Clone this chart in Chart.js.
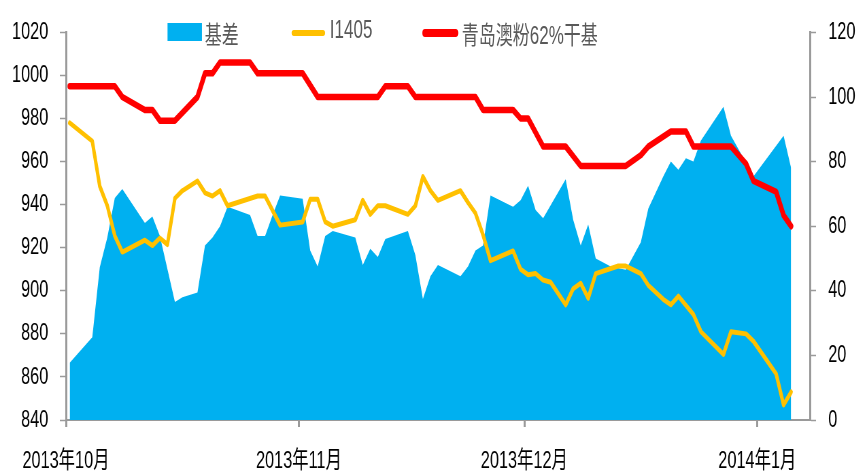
<!DOCTYPE html>
<html>
<head>
<meta charset="utf-8">
<script src="https://cdn.jsdelivr.net/npm/chart.js@4/dist/chart.umd.min.js"></script>
<style>
  html, body { margin: 0; padding: 0; background: #fff; overflow: hidden; }
  #wrap { position: relative; width: 857px; height: 471px; overflow: hidden; }
  /* the reference is squeezed sideways, so draw wide and squeeze */
  #stage { position: absolute; left: 0; top: 0; width: 1260px; height: 471px; transform: scaleX(0.68); transform-origin: 0 0; }
  #chart { position: absolute; left: 0; top: 0; }
  .lg-text { position: absolute; top: 15px; line-height: 32px; font: 25px 'Liberation Sans', 'Noto Sans CJK SC', sans-serif; color: #595959; white-space: nowrap; }
  .lg-box { position: absolute; left: 246px; top: 23px; width: 51px; height: 18px; background: #00B0F0; }
  .lg-line { position: absolute; border-radius: 4px; }
</style>
</head>
<body>
<div id="wrap">
  <div id="stage">
    <canvas id="chart" width="1260" height="471"></canvas>
    <div class="lg-box"></div>
    <div class="lg-text" style="left:301px">基差</div>
    <div class="lg-line" style="left:429px;top:30px;width:49px;height:6px;background:#FFC000"></div>
    <div class="lg-text" style="left:485px">I1405</div>
    <div class="lg-line" style="left:621px;top:29px;width:53px;height:8px;background:#FF0000"></div>
    <div class="lg-text" style="left:679px">青岛澳粉62%干基</div>
  </div>
</div>
<script>
const monthDates  = ['2013-10-01', '2013-11-01', '2013-12-01', '2014-01-01']
const monthLabels = ['2013年10月', '2013年11月', '2013年12月', '2014年1月']
const axisStart = '2013-10-01'
const axisEnd   = '2014-01-08'

// 青岛澳粉62%干基 (left axis)
const spotDates = ['2013-10-01','2013-10-07','2013-10-08','2013-10-11','2013-10-12','2013-10-13','2013-10-15',
  '2013-10-18','2013-10-19','2013-10-20','2013-10-21','2013-10-25','2013-10-26','2013-11-01','2013-11-03',
  '2013-11-11','2013-11-12','2013-11-15','2013-11-16','2013-11-24','2013-11-25','2013-11-29','2013-11-30',
  '2013-12-01','2013-12-03','2013-12-06','2013-12-08','2013-12-14','2013-12-16','2013-12-17','2013-12-20',
  '2013-12-22','2013-12-23','2013-12-28','2013-12-30','2013-12-31','2014-01-03','2014-01-04','2014-01-05']
const spotValues = [995, 995, 990, 984, 984, 979, 979,
  990, 1001, 1001, 1006, 1006, 1001, 1001, 990,
  990, 995, 995, 990, 990, 984, 984, 980,
  980, 967, 967, 958, 958, 963, 967, 974,
  974, 967, 967, 959, 951, 946, 935, 930]

// I1405 (left axis)
const futDates = ['2013-10-01','2013-10-04','2013-10-05','2013-10-06','2013-10-07','2013-10-08','2013-10-11',
  '2013-10-12','2013-10-13','2013-10-14','2013-10-15','2013-10-16','2013-10-18','2013-10-19','2013-10-20',
  '2013-10-21','2013-10-22','2013-10-26','2013-10-27','2013-10-29','2013-11-01','2013-11-02','2013-11-03',
  '2013-11-04','2013-11-05','2013-11-08','2013-11-09','2013-11-10','2013-11-11','2013-11-12','2013-11-15',
  '2013-11-16','2013-11-17','2013-11-18','2013-11-19','2013-11-22','2013-11-23','2013-11-24','2013-11-25',
  '2013-11-26','2013-11-29','2013-11-30','2013-12-01','2013-12-02','2013-12-03','2013-12-04','2013-12-06',
  '2013-12-07','2013-12-08','2013-12-09','2013-12-10','2013-12-13','2013-12-14','2013-12-16','2013-12-17',
  '2013-12-19','2013-12-20','2013-12-21','2013-12-23','2013-12-24','2013-12-27','2013-12-28','2013-12-30',
  '2013-12-31','2014-01-03','2014-01-04','2014-01-05']
const futValues = [978, 969.5, 948.5, 939.5, 925.5, 918, 923.5,
  921, 924.5, 921.5, 943, 946.5, 951, 945.5, 944,
  946.5, 939.5, 944, 944, 930.5, 932, 942.5, 942.5,
  932, 930, 933, 942, 935.5, 939.5, 939.5, 935.5,
  939.5, 953, 946.5, 942, 946.5, 941, 936, 926,
  914, 918.5, 910, 907.5, 908, 905, 904, 893.5,
  901, 903.5, 896.5, 908, 911.5, 911.5, 908, 902.5,
  896, 893.5, 897.5, 889, 881, 870.5, 881, 880,
  876.5, 861.5, 847, 853]

// 基差 (right axis)
const basisDates = ['2013-10-01','2013-10-04','2013-10-05','2013-10-06','2013-10-07','2013-10-08','2013-10-11',
  '2013-10-12','2013-10-13','2013-10-15','2013-10-16','2013-10-18','2013-10-19','2013-10-20','2013-10-21',
  '2013-10-22','2013-10-25','2013-10-26','2013-10-27','2013-10-28','2013-10-29','2013-11-01','2013-11-02',
  '2013-11-03','2013-11-04','2013-11-05','2013-11-08','2013-11-09','2013-11-10','2013-11-11','2013-11-12',
  '2013-11-15','2013-11-16','2013-11-17','2013-11-18','2013-11-19','2013-11-22','2013-11-23','2013-11-24',
  '2013-11-25','2013-11-26','2013-11-29','2013-11-30','2013-12-01','2013-12-02','2013-12-03','2013-12-06',
  '2013-12-07','2013-12-08','2013-12-09','2013-12-10','2013-12-12','2013-12-14','2013-12-16','2013-12-17',
  '2013-12-19','2013-12-20','2013-12-21','2013-12-22','2013-12-23','2013-12-24','2013-12-27','2013-12-28',
  '2013-12-31','2014-01-04','2014-01-05']
const basisValues = [17.7, 25.6, 47.3, 56.5, 68.7, 71.5, 61,
  63, 57, 36.5, 38, 39.5, 54, 56.5, 60,
  66, 63.5, 57, 57, 63.5, 69.5, 68.5, 52.5,
  47.5, 57, 58.5, 56.5, 48, 53, 50.5, 56,
  58.5, 51, 37.5, 44.5, 48, 44.5, 47.5, 52.5,
  54, 69.5, 66, 68, 72.5, 65, 62.5, 74.5,
  62, 54, 60.5, 50, 47.5, 46.5, 55, 65.5,
  75.5, 80, 77.5, 81, 80, 86.5, 97, 88,
  75.5, 88, 78]

const DAY = 86400000
const dayIndex = d => (Date.parse(d) - Date.parse(axisStart)) / DAY
// each day sits in the middle of its slot, like Excel's date axis
const toPoints = (dates, vals) => dates.map((d, i) => ({ x: dayIndex(d) + 0.5, y: vals[i] }))
const monthTicks = monthDates.map(dayIndex)

const FONT = "'Liberation Sans', 'Noto Sans CJK SC', sans-serif"
const AXIS = '#9a9a9a'

Chart.defaults.font.family = FONT

const axisGrid = { display: true, drawOnChartArea: false, drawTicks: true, tickLength: 9, tickColor: AXIS, tickWidth: 1.5 }
const plain = v => String(v)

new Chart(document.getElementById('chart'), {
  type: 'line',
  data: {
    datasets: [
      {
        label: '基差',
        data: toPoints(basisDates, basisValues),
        yAxisID: 'y1',
        backgroundColor: '#00B0F0',
        borderColor: 'rgba(0,0,0,0)',
        borderWidth: 0,
        fill: 'origin',
        pointRadius: 0,
        order: 3,
      },
      {
        label: 'I1405',
        data: toPoints(futDates, futValues),
        yAxisID: 'y',
        borderColor: '#FFC000',
        borderWidth: 5,
        borderJoinStyle: 'round',
        borderCapStyle: 'round',
        fill: false,
        pointRadius: 0,
        order: 2,
      },
      {
        label: '青岛澳粉62%干基',
        data: toPoints(spotDates, spotValues),
        yAxisID: 'y',
        borderColor: '#FF0000',
        borderWidth: 6.5,
        borderJoinStyle: 'round',
        borderCapStyle: 'round',
        fill: false,
        pointRadius: 0,
        order: 1,
      },
    ],
  },
  options: {
    responsive: false,
    animation: false,
    devicePixelRatio: 1,
    layout: { padding: { top: 27, left: 0, right: 0, bottom: 0 } },
    plugins: { legend: { display: false }, tooltip: { enabled: false } },
    scales: {
      x: {
        type: 'linear',
        min: 0,
        max: dayIndex(axisEnd),
        afterBuildTicks: s => { s.ticks = monthTicks.map(v => ({ value: v })) },
        afterFit: s => { s.height = 51 },
        ticks: {
          autoSkip: false,
          maxRotation: 0,
          padding: 20,
          color: '#000',
          font: { size: 24 },
          callback: v => monthLabels[monthTicks.indexOf(v)],
        },
        grid: { ...axisGrid, tickLength: 7, tickWidth: 3 },
        border: { display: true, color: AXIS, width: 2 },
      },
      y: {
        position: 'left',
        min: 840,
        max: 1020,
        afterFit: s => { s.width = 97 },
        ticks: { stepSize: 20, padding: 17, color: '#000', font: { size: 24 }, callback: plain },
        grid: axisGrid,
        border: { display: true, color: AXIS, width: 3 },
      },
      y1: {
        position: 'right',
        min: 0,
        max: 120,
        afterFit: s => { s.width = 69 },
        ticks: { stepSize: 20, padding: 18, color: '#000', font: { size: 24 }, callback: plain },
        grid: axisGrid,
        border: { display: true, color: AXIS, width: 3 },
      },
    },
  },
})
</script>
</body>
</html>
